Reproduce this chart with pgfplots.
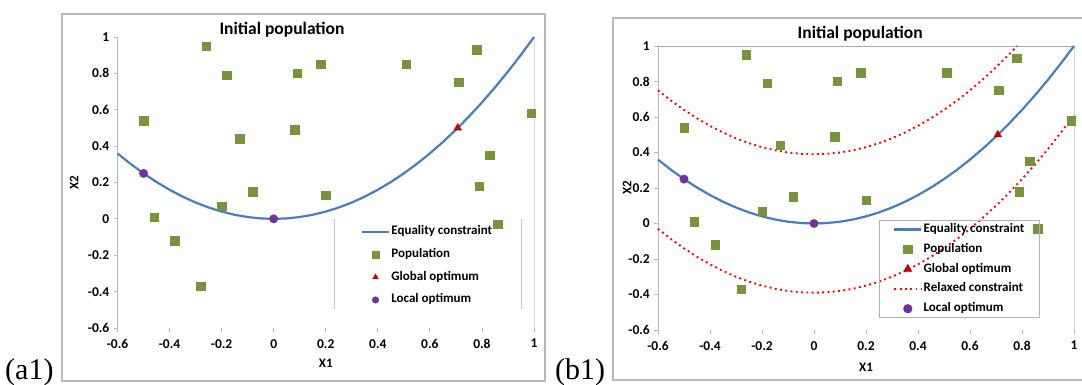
\documentclass[border=0pt]{standalone}
\usepackage{fontspec}
\setmainfont{Carlito}
\newfontfamily\seriffont{Liberation Serif}
\usepackage{pgfplots}
\usepackage{pgfplotstable}
\pgfplotsset{compat=1.18}

\definecolor{eqblue}{RGB}{74,126,187}
\definecolor{popgreen}{RGB}{119,147,60}
\definecolor{globred}{RGB}{192,0,0}
\definecolor{locpurple}{RGB}{112,48,160}
\definecolor{relred}{RGB}{255,0,0}

\pgfplotstableread{
x y
-0.26 0.95
-0.18 0.79
0.09 0.80
0.18 0.85
0.51 0.85
0.78 0.93
0.71 0.75
0.99 0.58
-0.50 0.54
-0.13 0.44
0.08 0.49
0.83 0.35
0.79 0.18
-0.08 0.15
0.20 0.13
-0.20 0.07
-0.46 0.01
-0.38 -0.12
-0.28 -0.37
0.86 -0.03
}\popdata

\pgfplotstableread{
x y
-0.6 0.36
-0.55 0.3025
-0.5 0.25
-0.45 0.2025
-0.4 0.16
-0.35 0.1225
-0.3 0.09
-0.25 0.0625
-0.2 0.04
-0.15 0.0225
-0.1 0.01
-0.05 0.0025
0 0
0.05 0.0025
0.1 0.01
0.15 0.0225
0.2 0.04
0.25 0.0625
0.3 0.09
0.35 0.1225
0.4 0.16
0.45 0.2025
0.5 0.25
0.55 0.3025
0.6 0.36
0.65 0.4225
0.7 0.49
0.75 0.5625
0.8 0.64
0.85 0.7225
0.9 0.81
0.95 0.9025
1.0 1.0
}\eqdata

\pgfplotstableread{
x y
-0.6 0.75
-0.55 0.6925
-0.5 0.64
-0.45 0.5925
-0.4 0.55
-0.35 0.5125
-0.3 0.48
-0.25 0.4525
-0.2 0.43
-0.15 0.4125
-0.1 0.40
-0.05 0.3925
0 0.39
0.05 0.3925
0.1 0.40
0.15 0.4125
0.2 0.43
0.25 0.4525
0.3 0.48
0.35 0.5125
0.4 0.55
0.45 0.5925
0.5 0.64
0.55 0.6925
0.6 0.75
0.65 0.8125
0.7 0.88
0.75 0.9525
0.781 1.0
}\upperdata

\pgfplotstableread{
x y
-0.6 -0.03
-0.55 -0.0875
-0.5 -0.14
-0.45 -0.1875
-0.4 -0.23
-0.35 -0.2675
-0.3 -0.30
-0.25 -0.3275
-0.2 -0.35
-0.15 -0.3675
-0.1 -0.38
-0.05 -0.3875
0 -0.39
0.05 -0.3875
0.1 -0.38
0.15 -0.3675
0.2 -0.35
0.25 -0.3275
0.3 -0.30
0.35 -0.2675
0.4 -0.23
0.45 -0.1875
0.5 -0.14
0.55 -0.0875
0.6 -0.03
0.65 0.0325
0.7 0.10
0.75 0.1725
0.8 0.25
0.85 0.3325
0.9 0.42
0.95 0.5125
1.0 0.61
}\lowerdata

\pgfplotsset{
  mystyle/.style={
    scale only axis,
    xmin=-0.6, xmax=1, ymin=-0.6, ymax=1,
    xtick={-0.6,-0.4,-0.2,0,0.2,0.4,0.6,0.8,1},
    xticklabels={-0.6,-0.4,-0.2,0,0.2,0.4,0.6,0.8,1},
    ytick={-0.6,-0.4,-0.2,0,0.2,0.4,0.6,0.8,1},
    yticklabels={-0.6,-0.4,-0.2,0,0.2,0.4,0.6,0.8,1},
    axis lines*=left,
    x axis line style={draw=none},
    y axis line style={draw=gray!55, line width=0.8pt},
    tick align=outside, major tick length=4pt,
    tick style={draw=gray!55, line width=0.8pt},
    ticklabel style={font=\bfseries\fontsize{13.5}{15}\selectfont},
    yticklabel style={inner sep=0pt, xshift=-4pt},
    xticklabel style={inner sep=0pt, yshift=-7pt},
    label style={font=\bfseries\fontsize{13}{15}\selectfont},
    title style={font=\bfseries\fontsize{17.5}{19}\selectfont, anchor=center},
    clip=false,
    legend cell align=left,
    legend style={fill=none, font=\bfseries\fontsize{13}{15}\selectfont,
      nodes={inner sep=1.25pt, text height=9pt, text depth=3pt},
      anchor=north west},
    legend image code/.code={\draw[mark repeat=2,mark phase=2] plot coordinates {(0pt,0pt) (13.5pt,0pt) (27pt,0pt)};},
  },
  eqline/.style={draw=eqblue, line width=2.2pt},
  popmark/.style={only marks, mark=square*, mark size=4.2pt, mark options={draw=popgreen, fill=popgreen}},
  globmark/.style={only marks, mark=triangle*, mark size=4.4pt, mark options={draw=globred, fill=globred}},
  locmark/.style={only marks, mark=*, mark size=4.2pt, mark options={draw=locpurple, fill=locpurple}},
  relline/.style={draw=relred, line width=1.9pt, dash pattern=on 1.9pt off 3.4pt},
}

\begin{document}
\begin{tikzpicture}
\path[use as bounding box] (0,0) rectangle (1082pt,385pt);

% outer frames
\draw[gray!55, line width=2.4pt] (62pt,4pt) rectangle (545pt,371pt);
\draw[gray!55, line width=2.4pt] (613pt,5pt) rectangle (1095pt,367pt);

\node[anchor=base west, inner sep=0pt, font=\seriffont\fontsize{30}{32}\selectfont] at (5pt,5.5pt) {(a1)};
\node[anchor=base west, inner sep=0pt, font=\seriffont\fontsize{30}{32}\selectfont] at (555pt,5.5pt) {(b1)};

% legend border pieces for panel a
\draw[gray!45, line width=0.8pt] (334pt,166pt) -- (334pt,76pt);
\draw[gray!45, line width=0.8pt] (521.7pt,166pt) -- (521.7pt,76pt);

% ---------------- panel (a1)
\begin{axis}[mystyle,
  at={(117.5pt,57pt)}, anchor=south west,
  width=416.5pt, height=291pt,
  title={Initial population},
  title style={at={(axis description cs:0.395,1.004)}},
  xlabel={X1}, xlabel style={at={(axis description cs:0.5,-0.1203)}, anchor=center},
  ylabel={X2}, ylabel style={at={(axis description cs:-0.1044,0.5)}, anchor=center},
  legend style={at={(axis description cs:0.584,0.356)}, draw=none, row sep=8.2pt, inner sep=0pt},
  legend image post style={mark size=3.3pt},
]
\draw[gray!30, line width=0.8pt] (rel axis cs:1,0) -- (rel axis cs:1,1);
\addplot[eqline] table[x=x,y=y] {\eqdata};
\addlegendentry{Equality constraint}
\addplot[popmark] table[x=x,y=y] {\popdata};
\addlegendentry{Population}
\addplot[globmark] coordinates {(0.707,0.5)};
\addlegendentry{Global optimum}
\addplot[locmark] coordinates {(-0.5,0.25) (0,0)};
\addlegendentry{Local optimum}
\end{axis}

% ---------------- panel (b1)
\begin{axis}[mystyle,
  at={(658pt,55pt)}, anchor=south west,
  width=416pt, height=284pt,
  title={Initial population},
  title style={at={(axis description cs:0.486,1.021)}},
  xlabel={X1}, xlabel style={at={(axis description cs:0.5,-0.130)}, anchor=center},
  ylabel={X2}, ylabel style={at={(axis description cs:-0.0745,0.5)}, anchor=center},
  legend style={at={(axis description cs:0.532,0.387)}, draw=gray!60, line width=0.8pt, row sep=5.3pt, inner xsep=13.5pt, inner ysep=1.8pt},
]
\draw[gray!65, line width=0.8pt] (rel axis cs:0,1) -- (rel axis cs:1,1);
\draw[gray!30, line width=0.8pt] (rel axis cs:1,0) -- (rel axis cs:1,1);
\addplot[eqline] table[x=x,y=y] {\eqdata};
\addlegendentry{Equality constraint}
\addplot[popmark] table[x=x,y=y] {\popdata};
\addlegendentry{Population}
\addplot[globmark] coordinates {(0.707,0.5)};
\addlegendentry{Global optimum}
\addplot[relline] table[x=x,y=y] {\upperdata};
\addlegendentry{Relaxed constraint}
\addplot[relline, forget plot] table[x=x,y=y] {\lowerdata};
\addplot[locmark] coordinates {(-0.5,0.25) (0,0)};
\addlegendentry{Local optimum}
\end{axis}
\end{tikzpicture}
\end{document}
